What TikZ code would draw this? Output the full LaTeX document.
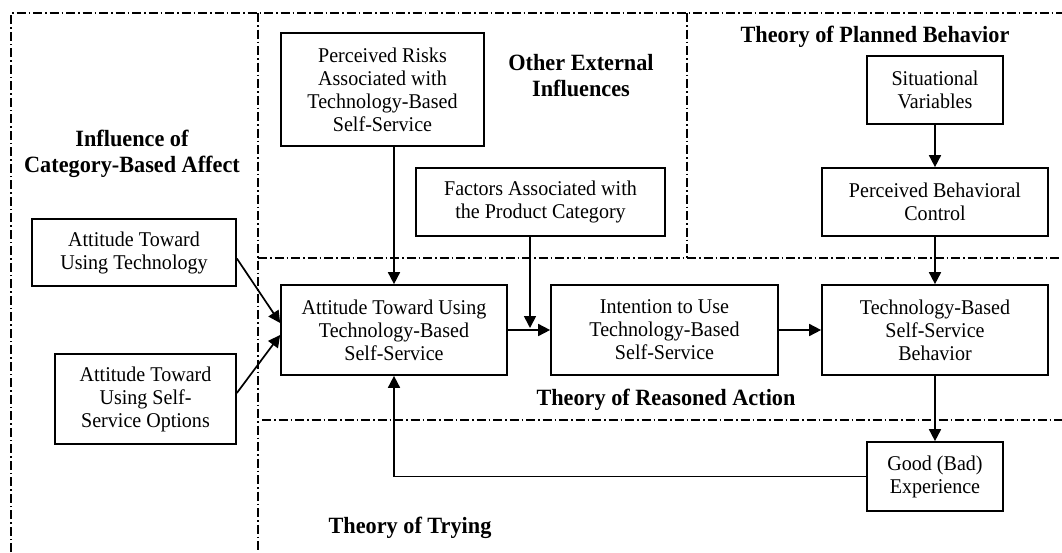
\documentclass[tikz,border=0pt]{standalone}
\usepackage{fontspec}
\setmainfont[FakeStretch=0.955]{Liberation Serif}
\usetikzlibrary{arrows.meta,calc}
\begin{document}
\begin{tikzpicture}[x=1pt,y=-1pt,
  box/.style={draw,line width=1.7pt,align=center,inner sep=2pt,
    font=\fontsize{21}{23}\selectfont},
  lbl/.style={align=center,font=\fontsize{23.3}{26}\selectfont\bfseries},
  arr/.style={line width=1.7pt,-{Triangle[length=12pt,width=12pt]}},
  region/.style={line width=1.2pt,dash pattern=on 9pt off 3pt on 1.5pt off 3pt}]
\useasboundingbox (0,0) rectangle (1062,552);
% regions
\coordinate (tl) at (11,13);
\coordinate (tr) at (1062,13);
\coordinate (bl) at (11,552);
\coordinate (d1t) at (258,13);
\coordinate (d1b) at (258,552);
\coordinate (h1l) at (258,258);
\coordinate (h1r) at (1062,258);
\coordinate (d2t) at (687,13);
\coordinate (d2b) at (687,258);
\coordinate (h2l) at (262,420);
\coordinate (h2r) at (1062,420);
\draw[region] (bl) -- (tl) -- (tr);
\draw[region] (d1t) -- (d1b);
\draw[region] (h1l) -- (h1r);
\draw[region] (d2t) -- (d2b);
\draw[region] (h2l) -- (h2r);
% boxes
\node[box,minimum width=203pt,minimum height=113pt] (risk) at (382.5,89.5)
  {Perceived Risks\\Associated with\\Technology-Based\\Self-Service};
\node[box,minimum width=249pt,minimum height=68pt] (fact) at (540.5,202)
  {Factors Associated with\\the Product Category};
\node[box,minimum width=136pt,minimum height=68pt] (sit) at (935,90)
  {Situational\\Variables};
\node[box,minimum width=226pt,minimum height=68pt] (pbc) at (935,202)
  {Perceived Behavioral\\Control};
\node[box,minimum width=204pt,minimum height=67pt] (atech) at (134,252.5)
  {Attitude Toward\\Using Technology};
\node[box,minimum width=181pt,minimum height=90pt] (asso) at (145.5,399)
  {Attitude Toward\\Using Self-\\Service Options};
\node[box,minimum width=226pt,minimum height=90pt] (atbss) at (394,330)
  {Attitude Toward Using\\Technology-Based\\Self-Service};
\node[box,minimum width=227pt,minimum height=90pt] (intent) at (664.5,330)
  {Intention to Use\\Technology-Based\\Self-Service};
\node[box,minimum width=226pt,minimum height=90pt] (beh) at (935,330)
  {Technology-Based\\Self-Service\\Behavior};
\node[box,minimum width=136pt,minimum height=69pt] (exp) at (935,476.5)
  {Good (Bad)\\Experience};
% labels
\node[lbl] (lcat) at (132,154) {Influence of\\Category-Based Affect};
\node[lbl] (lext) at (581,76) {Other External\\Influences};
\node[lbl] (ltpb) at (875,37) {Theory of Planned Behavior};
\node[lbl] (ltra) at (666,400) {Theory of Reasoned Action};
\node[lbl] (ltot) at (410,528) {Theory of Trying};
% connectors
\coordinate (j) at (530,328);
\draw[arr] (risk.south -| atbss.north) -- (atbss.north);
\draw[arr] (atbss.east) -- (intent.west);
\draw[arr] (fact.south -| j) -- (j);
\draw[arr] (intent.east) -- (beh.west);
\draw[arr] (sit.south) -- (pbc.north);
\draw[arr] (pbc.south) -- (beh.north);
\draw[arr] (beh.south) -- (exp.north);
\draw[arr] (exp.west) -| (atbss.south);
\draw[arr] ($(atech.east)+(0,6)$) -- ($(atbss.west)+(0,-7)$);
\draw[arr] ($(asso.east)+(0,-6)$) -- ($(atbss.west)+(0,5)$);
\end{tikzpicture}
\end{document}
